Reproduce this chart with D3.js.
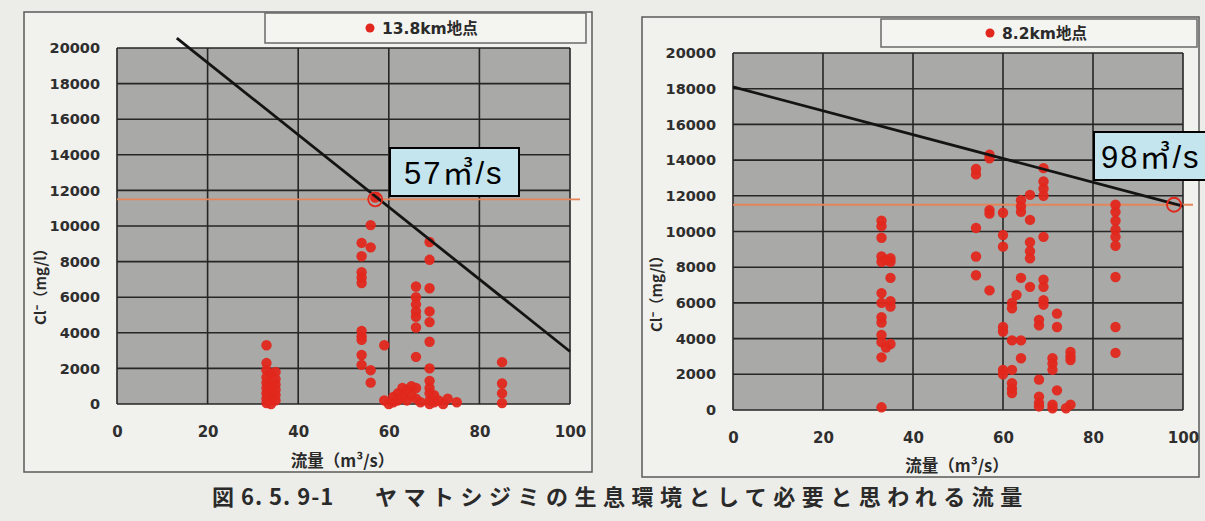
<!DOCTYPE html>
<html>
<head>
<meta charset="utf-8">
<script src="https://cdn.jsdelivr.net/npm/d3@7"></script>
<style>
  html, body { margin: 0; padding: 0; background: #ecece8; }
  svg { display: block; }
</style>
</head>
<body>
<svg id="chart" width="1205" height="521"></svg>
<script>
// ---------- data ----------
const xTicks = [0, 20, 40, 60, 80, 100];
const yTicks = [0, 2000, 4000, 6000, 8000, 10000, 12000, 14000, 16000, 18000, 20000];
const xTitle = "流量（m³/s）";
const yTitle = "Cl⁻（mg/l）";
const captionNum = "図 6. 5. 9-1";
const captionText = "ヤマトシジミの生息環境として必要と思われる流量";
const calloutUnit = "㎥/s";

// 13.8km地点 : [flow m3/s, Cl- mg/l]
const seriesLeftName = "13.8km地点";
const pointsLeft = [
  [33,3300],[33,2300],[33,1900],[33,1500],[33,1200],[33,900],[33,600],[33,300],[33,50],
  [34,1700],[34,1000],[34,400],[34,0],
  [35,1800],[35,1400],[35,1100],[35,800],[35,500],[35,200],
  [54,9050],[54,8300],[54,7400],[54,7100],[54,6800],[54,4100],[54,3800],[54,3600],[54,2750],[54,2200],
  [56,10050],[56,8800],[56,1900],[56,1200],[57,11600],
  [59,3300],[59,200],
  [60,0],[61,400],[61,100],[62,600],[62,200],[63,900],[63,400],[64,800],[64,200],
  [65,1000],[65,500],[66,900],[66,300],[67,100],
  [66,6600],[66,6000],[66,5600],[66,5200],[66,4900],[66,4300],[66,2650],
  [69,9100],[69,8100],[69,6500],[69,5200],[69,4600],[69,3500],[69,2000],[69,1300],[69,900],[69,600],[69,200],[69,0],
  [70,500],[70,100],[71,200],[72,0],[73,300],[75,100],
  [85,2350],[85,1150],[85,600],[85,50]
];
const lineLeft = [[13.2, 20560], [100, 2950]];
const limitLeft = 11500;
const markLeft = [57, 11500];
const calloutLeft = "57";

// 8.2km地点
const seriesRightName = "8.2km地点";
const pointsRight = [
  [33,10600],[33,10300],[33,9650],[33,8600],[34,8400],[35,8500],[35,8300],[33,8300],[35,7400],
  [33,6550],[33,6000],[35,6100],[35,5800],[33,5200],[33,4900],[33,4200],[33,3800],[35,3700],[34,3500],[33,2950],[33,150],
  [54,13500],[54,13200],[54,10200],[54,8600],[54,7550],
  [57,14300],[57,14100],[57,11200],[57,11000],[57,6700],
  [60,11050],[60,9800],[60,9150],[60,4650],[60,4400],[60,2250],[60,2000],
  [62,6000],[62,5700],[62,3900],[62,2250],[62,1500],[62,1200],[62,950],
  [63,6450],[64,7400],[64,11750],[64,11400],[64,11100],[64,3900],[64,2900],
  [66,12050],[66,10650],[66,9400],[66,8900],[66,8500],[66,6900],
  [68,5050],[68,4750],[68,1700],[68,750],[68,400],[68,200],
  [69,13550],[69,12800],[69,12400],[69,12000],[69,9700],[69,7300],[69,6900],[69,6150],[69,5900],
  [72,5400],[72,4650],[71,2900],[71,2600],[71,2250],[72,1100],[71,100],[71,300],
  [75,3250],[75,3000],[75,2800],[75,300],[74,100],
  [85,11500],[85,11100],[85,10600],[85,10100],[85,9700],[85,9200],[85,7450],[85,4650],[85,3200]
];
const lineRight = [[0, 18100], [100, 11420]];
const limitRight = 11500;
const markRight = [98, 11500];
const calloutRight = "98";

// ---------- drawing ----------
const svg = d3.select("#chart");
const RED = "#e2271c";

function panel(cfg) {
  const g = svg.append("g");
  const x = d3.scaleLinear().domain([0, 100]).range([cfg.px0, cfg.px1]);
  const y = d3.scaleLinear().domain([0, 20000]).range([cfg.py0, cfg.py1]);

  // outer box
  g.append("rect").attr("x", cfg.box[0]).attr("y", cfg.box[1])
    .attr("width", cfg.box[2] - cfg.box[0]).attr("height", cfg.box[3] - cfg.box[1])
    .attr("fill", "#f1f1ed").attr("stroke", "#5a5a5a").attr("stroke-width", 1.5);

  // legend box
  g.append("rect").attr("x", cfg.leg[0]).attr("y", cfg.leg[1])
    .attr("width", cfg.leg[2] - cfg.leg[0]).attr("height", cfg.leg[3] - cfg.leg[1])
    .attr("fill", "#f4f4f0").attr("stroke", "#6a6a6a").attr("stroke-width", 1.5);
  const lc = (cfg.leg[1] + cfg.leg[3]) / 2;
  g.append("circle").attr("cx", cfg.legDot).attr("cy", lc).attr("r", 4.5).attr("fill", RED);
  g.append("text").attr("x", cfg.legDot + 12).attr("y", lc + 6)
    .attr("font-family", "DejaVu Sans, 'Noto Sans CJK JP'").attr("font-weight", "bold")
    .attr("font-size", 15.5).attr("fill", "#2a2a2a").text(cfg.name);

  // plot area
  g.append("rect").attr("x", cfg.px0).attr("y", cfg.py1)
    .attr("width", cfg.px1 - cfg.px0).attr("height", cfg.py0 - cfg.py1)
    .attr("fill", "#a9a9a7");

  // grid
  g.selectAll(".hg").data(yTicks).enter().append("line")
    .attr("x1", cfg.px0).attr("x2", cfg.px1)
    .attr("y1", d => y(d)).attr("y2", d => y(d))
    .attr("stroke", "#262626").attr("stroke-width", 1.6);
  g.selectAll(".vg").data(xTicks).enter().append("line")
    .attr("y1", cfg.py1).attr("y2", cfg.py0)
    .attr("x1", d => x(d)).attr("x2", d => x(d))
    .attr("stroke", "#262626").attr("stroke-width", 1.6);

  // axes labels
  const ya = g.append("g").attr("transform", `translate(${cfg.px0},0)`)
    .call(d3.axisLeft(y).tickValues(yTicks).tickSize(0).tickPadding(17).tickFormat(d3.format("d")));
  ya.select(".domain").remove();
  ya.selectAll("text").attr("font-family", "DejaVu Sans").attr("font-weight", "bold")
    .attr("font-size", 14.5).attr("fill", "#2e2e2e");
  const xa = g.append("g").attr("transform", `translate(0,${cfg.py0})`)
    .call(d3.axisBottom(x).tickValues(xTicks).tickSize(0).tickPadding(cfg.xPad));
  xa.select(".domain").remove();
  xa.selectAll("text").attr("font-family", "DejaVu Sans").attr("font-weight", "bold")
    .attr("font-size", 15).attr("fill", "#2e2e2e");

  // titles
  g.append("text").attr("x", (cfg.px0 + cfg.px1) / 2 - 1).attr("y", cfg.xTitleY)
    .attr("text-anchor", "middle").attr("font-family", "'Noto Sans CJK JP'")
    .attr("font-weight", "bold").attr("font-size", 16.5).attr("fill", "#2a2a2a").text(xTitle);
  g.append("text").attr("transform", `translate(${cfg.yTitle[0]},${cfg.yTitle[1]}) rotate(-90)`)
    .attr("text-anchor", "middle").attr("font-family", "'Noto Sans CJK JP'")
    .attr("font-weight", "bold").attr("font-size", 15).attr("fill", "#2a2a2a").text(yTitle);

  // limit line
  g.append("line").attr("x1", x(0)).attr("x2", cfg.limitEnd)
    .attr("y1", y(cfg.limit)).attr("y2", y(cfg.limit))
    .attr("stroke", "#e6845a").attr("stroke-width", 1.8);

  // points
  g.selectAll(".pt").data(cfg.points).enter().append("circle")
    .attr("cx", d => x(d[0])).attr("cy", d => y(d[1])).attr("r", 5.2)
    .attr("fill", RED).attr("opacity", 0.95);

  // trend line
  g.append("path").datum(cfg.line)
    .attr("d", d3.line().x(d => x(d[0])).y(d => y(d[1])))
    .attr("stroke", "#141414").attr("stroke-width", 2.8).attr("fill", "none");

  // mark circle
  g.append("circle").attr("cx", x(cfg.mark[0])).attr("cy", y(cfg.mark[1])).attr("r", 7)
    .attr("fill", "none").attr("stroke", RED).attr("stroke-width", 1.8);

  // callout
  g.append("rect").attr("x", cfg.call[0]).attr("y", cfg.call[1])
    .attr("width", cfg.call[2] - cfg.call[0]).attr("height", cfg.call[3] - cfg.call[1])
    .attr("fill", "#c4e5ee").attr("stroke", "#000").attr("stroke-width", 2);
  g.append("text").attr("x", cfg.callText).attr("y", cfg.call[3] - 12)
    .attr("font-family", "'Liberation Sans', 'Noto Sans CJK JP'").attr("font-size", 31)
    .attr("letter-spacing", 2).attr("fill", "#000")
    .text(cfg.callNum + calloutUnit);
}

panel({
  name: seriesLeftName, points: pointsLeft, line: lineLeft, limit: limitLeft, mark: markLeft,
  callNum: calloutLeft,
  px0: 117, px1: 570, py0: 404, py1: 48,
  box: [24, 12, 592, 472], leg: [265, 13, 586, 43], legDot: 370,
  xPad: 22, xTitleY: 467, yTitle: [46, 283], limitEnd: 580,
  call: [390, 148, 519, 196], callText: 404
});
panel({
  name: seriesRightName, points: pointsRight, line: lineRight, limit: limitRight, mark: markRight,
  callNum: calloutRight,
  px0: 733, px1: 1183, py0: 410, py1: 53,
  box: [642, 17, 1199, 477], leg: [881, 19, 1197, 47], legDot: 990,
  xPad: 22, xTitleY: 472, yTitle: [662, 290], limitEnd: 1193,
  call: [1094, 132, 1212, 180], callText: 1101
});

// caption
svg.append("text").attr("x", 212).attr("y", 505)
  .attr("font-family", "'Noto Sans CJK JP'").attr("font-weight", "bold")
  .attr("font-size", 22).attr("fill", "#2a2a2a")
  .attr("letter-spacing", 1).text(captionNum);
svg.append("text").attr("x", 375).attr("y", 505)
  .attr("font-family", "'Noto Sans CJK JP'").attr("font-weight", "bold")
  .attr("font-size", 22).attr("fill", "#2a2a2a")
  .attr("letter-spacing", 6.5).text(captionText);
</script>
</body>
</html>
